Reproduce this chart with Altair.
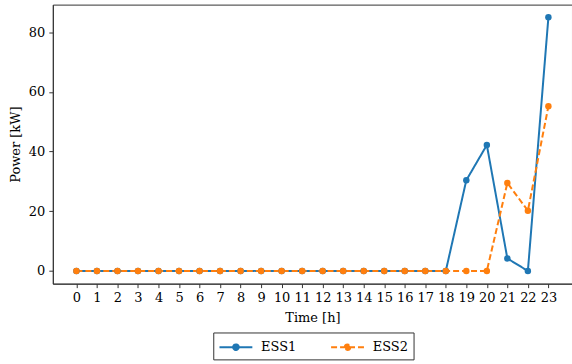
import altair as alt
import pandas as pd

# Hourly power of the two energy storage systems
hours = list(range(24))
ess1 = [0, 0, 0, 0, 0, 0, 0, 0, 0, 0, 0, 0, 0, 0, 0, 0, 0, 0, 0, 30.4, 42.2, 4.2, 0, 85.0]
ess2 = [0, 0, 0, 0, 0, 0, 0, 0, 0, 0, 0, 0, 0, 0, 0, 0, 0, 0, 0, 0, 0, 29.5, 20.2, 55.2]
series_names = ["ESS1", "ESS2"]
series_colors = ["#1f77b4", "#ff7f0e"]
y_ticks = [0, 20, 40, 60, 80]

df = pd.concat(
    [
        pd.DataFrame({"hour": hours, "power": ess1, "series": "ESS1"}),
        pd.DataFrame({"hour": hours, "power": ess2, "series": "ESS2"}),
    ],
    ignore_index=True,
)

FONT = "DejaVu Serif"
FS = 13

# line with a dot in the middle, used as legend glyph
legend_glyph = "M-1,0L3,0M0.66,0A0.34,0.34,0,1,1,1.34,0A0.34,0.34,0,1,1,0.66,0Z"

legend = alt.Legend(
    title=None,
    orient="none",
    legendX=161,
    legendY=329,
    direction="horizontal",
    symbolType=legend_glyph,
    symbolSize=272,
    symbolStrokeWidth=2,
    labelOffset=24,
    columnPadding=30,
    padding=5,
    strokeColor="#333333",
    fillColor="white",
    cornerRadius=0,
    labelFont=FONT,
    labelFontSize=FS,
    labelColor="black",
)

color = alt.Color(
    "series:N",
    scale=alt.Scale(domain=series_names, range=series_colors),
    legend=legend,
)
dash = alt.StrokeDash(
    "series:N",
    scale=alt.Scale(domain=series_names, range=[[1, 0], [6, 3]]),
    legend=legend,
)

x = alt.X(
    "hour:Q",
    scale=alt.Scale(domain=[-1.15, 24.15], nice=False, zero=False),
    axis=alt.Axis(values=hours, title="Time [h]", format="d"),
)
y = alt.Y(
    "power:Q",
    scale=alt.Scale(domain=[-4.25, 89.25], nice=False, zero=False),
    axis=alt.Axis(values=y_ticks, title="Power [kW]", format="d"),
)

lines = alt.Chart(df).mark_line(strokeWidth=2).encode(x=x, y=y, color=color, strokeDash=dash)
dots = alt.Chart(df).mark_circle(size=42, opacity=1).encode(x=x, y=y, color=color)

chart = (
    alt.layer(lines, dots)
    .properties(
        width=521,
        height=280,
        autosize=alt.AutoSizeParams(type="none"),
        padding={"left": 53, "top": 4, "right": 0, "bottom": 80},
    )
    .configure(font=FONT)
    .configure_view(stroke="#333333", strokeWidth=1)
    .configure_axis(
        grid=False,
        domainColor="#333333",
        domainWidth=1,
        tickColor="#333333",
        tickSize=4,
        tickWidth=1,
        labelFont=FONT,
        labelFontSize=FS,
        labelColor="black",
        labelPadding=4,
        titleFont=FONT,
        titleFontSize=FS,
        titleFontWeight="normal",
        titleColor="black",
    )
    .configure_axisY(titlePadding=6, labelPadding=4)
    .configure_axisX(titlePadding=7, labelAngle=0)
)

chart.save("out.html", embed_options={"renderer": "svg", "actions": False})
